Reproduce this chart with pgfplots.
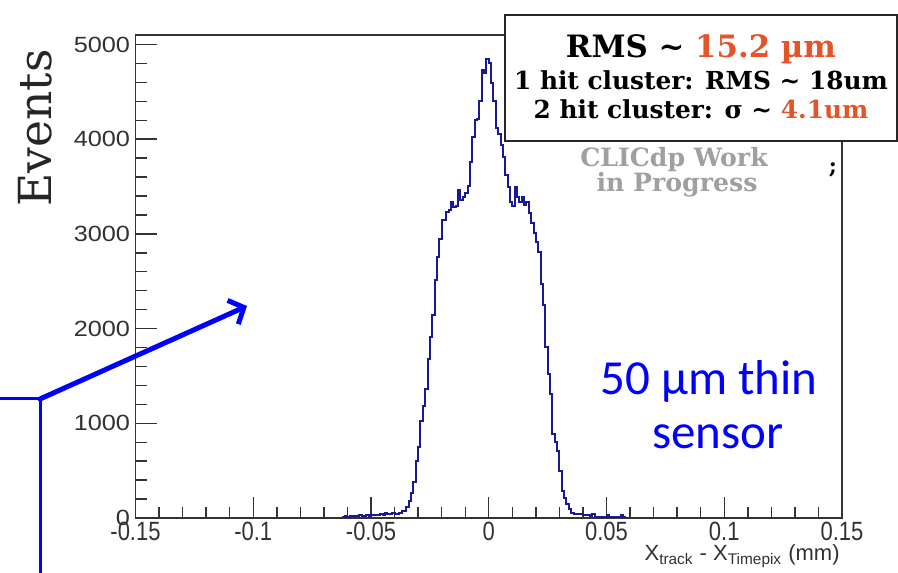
\documentclass[border=0pt]{standalone}
\usepackage{pgfplots}
\pgfplotsset{compat=1.18}
\usepackage{fontspec}
\setmainfont{Liberation Sans}
\newfontfamily\dvs{DejaVu Serif}
\newfontfamily\carl{Carlito}
\usetikzlibrary{arrows.meta}
\definecolor{histc}{RGB}{25,25,150}
\definecolor{tickc}{RGB}{50,50,50}
\definecolor{rmsred}{RGB}{228,84,40}
\definecolor{wipgray}{RGB}{160,160,160}
\begin{document}
\begin{tikzpicture}
\useasboundingbox (0,0) rectangle (449pt,286pt);
\begin{axis}[
  at={(67.75pt,27pt)}, anchor=south west,
  scale only axis, width=353.25pt, height=241.5pt,
  xmin=-0.15, xmax=0.15, ymin=0, ymax=5100,
  xtick={-0.15,-0.1,-0.05,0,0.05,0.1,0.15},
  ytick={0,1000,2000,3000,4000,5000},
  minor x tick num=4, minor y tick num=4,
  xtick pos=bottom, ytick pos=left,
  tick align=inside,
  major tick length=10.5pt, minor tick length=5.5pt,
  axis line style={line width=0.7pt, draw=black!80},
  every tick/.style={line width=0.7pt, black!80},
  scaled x ticks=false, scaled y ticks=false,
  /pgf/number format/assume math mode=true,
  xticklabel style={/pgf/number format/fixed, /pgf/number format/precision=2, inner sep=0pt, yshift=-2pt, yscale=1.2, font=\fontsize{11}{12}\selectfont, text=tickc},
  yticklabel style={/pgf/number format/1000 sep={}, inner sep=0pt, xshift=-2.5pt, xscale=1.15, font=\fontsize{11}{12}\selectfont, text=tickc},
]
\addplot[const plot, histc, line width=1pt] coordinates {
(-0.063,0) (-0.062,10) (-0.061,25) (-0.060,15) (-0.059,20) (-0.058,25) (-0.057,20) (-0.056,25)
(-0.055,30) (-0.054,20) (-0.053,25) (-0.052,30) (-0.051,25) (-0.050,30) (-0.049,35) (-0.048,30)
(-0.047,35) (-0.046,40) (-0.045,35) (-0.044,55) (-0.043,40) (-0.042,45) (-0.041,55) (-0.040,40)
(-0.039,45) (-0.038,50) (-0.037,74) (-0.036,74) (-0.035,115) (-0.034,175) (-0.033,260) (-0.032,385)
(-0.031,604) (-0.030,745) (-0.029,1027) (-0.028,1180) (-0.027,1363) (-0.026,1681) (-0.025,1910) (-0.024,2139)
(-0.023,2510) (-0.022,2757) (-0.021,2951) (-0.020,3145) (-0.019,3150) (-0.018,3233) (-0.017,3251) (-0.016,3339)
(-0.015,3286) (-0.014,3290) (-0.013,3463) (-0.012,3357) (-0.011,3392) (-0.010,3428) (-0.009,3505) (-0.008,3763)
(-0.007,4027) (-0.006,4204) (-0.005,4210) (-0.004,4398) (-0.003,4734) (-0.002,4700) (-0.001,4847) (0.000,4805)
(0.001,4593) (0.002,4398) (0.003,4116) (0.004,4050) (0.005,3940) (0.006,3816) (0.007,3622) (0.008,3498)
(0.009,3339) (0.010,3290) (0.011,3498) (0.012,3392) (0.013,3339) (0.014,3392) (0.015,3300) (0.016,3339)
(0.017,3216) (0.018,3117) (0.019,3004) (0.020,2915) (0.021,2810) (0.022,2467) (0.023,2245) (0.024,1803)
(0.025,1521) (0.026,1310) (0.027,886) (0.028,800) (0.029,710) (0.030,498) (0.031,286) (0.032,215)
(0.033,145) (0.034,92) (0.035,56) (0.036,39) (0.037,39) (0.038,39) (0.039,39) (0.040,30)
(0.041,30) (0.042,30) (0.043,25) (0.044,39) (0.045,15) (0.046,15) (0.047,15) (0.048,15)
(0.049,15) (0.050,30) (0.051,10) (0.052,10) (0.053,10) (0.054,10) (0.055,10) (0.056,30)
(0.057,10) (0.058,0) (0.059,0)
};
\end{axis}
% y axis title
\node[rotate=90, font=\dvs\fontsize{22.8}{26}\selectfont, text=black!85] at (17.5pt,222pt) {Events};
% x axis title
\node[anchor=base east, inner sep=0pt, font=\fontsize{11}{13}\selectfont, text=tickc] at (420pt,5.5pt) {X\textsubscript{track} - X\textsubscript{Timepix} (mm)};
% RMS box
\draw[fill=white, line width=0.75pt, draw=black!85] (252.5pt,278.5pt) rectangle (448.5pt,215.5pt);
\node[anchor=base, inner sep=0pt, font=\dvs\bfseries\fontsize{15.4}{18}\selectfont] at (350.5pt,257pt) {RMS \textasciitilde{} \textcolor{rmsred}{15.2 µm}};
\node[anchor=base, inner sep=0pt, font=\dvs\bfseries\fontsize{12.4}{15}\selectfont] at (350.5pt,241pt) {1 hit cluster: RMS \textasciitilde{} 18um};
\node[anchor=base, inner sep=0pt, font=\dvs\bfseries\fontsize{12.4}{15}\selectfont] at (350.5pt,226.5pt) {2 hit cluster: σ \textasciitilde{} \textcolor{rmsred}{4.1um}};
% work in progress
\node[anchor=base, inner sep=0pt, font=\dvs\bfseries\fontsize{12.6}{15}\selectfont, text=wipgray] at (337pt,202.5pt) {CLICdp Work};
\node[anchor=base, inner sep=0pt, font=\dvs\bfseries\fontsize{12.6}{15}\selectfont, text=wipgray] at (338.5pt,190pt) {in Progress};
\node[anchor=base, inner sep=0pt, font=\dvs\bfseries\fontsize{11}{13}\selectfont] at (416.5pt,199pt) {;};
% sensor annotation
\node[anchor=base, inner sep=0pt, font=\carl\fontsize{24.5}{28}\selectfont, text=blue] at (354.5pt,88.5pt) {50 µm thin};
\node[anchor=base, inner sep=0pt, font=\carl\fontsize{24.5}{28}\selectfont, text=blue] at (359pt,61.5pt) {sensor};
% blue arrow
\draw[blue, line width=1.5pt] (0pt,86.5pt) -- (20pt,86.5pt);
\draw[blue, line width=1.5pt] (20pt,86.5pt) -- (20pt,-2pt);
\draw[blue, line width=2.5pt, line cap=round, -{Straight Barb[length=6pt,width=13pt]}] (20pt,86.5pt) -- (123.5pt,133pt);
\end{tikzpicture}
\end{document}
